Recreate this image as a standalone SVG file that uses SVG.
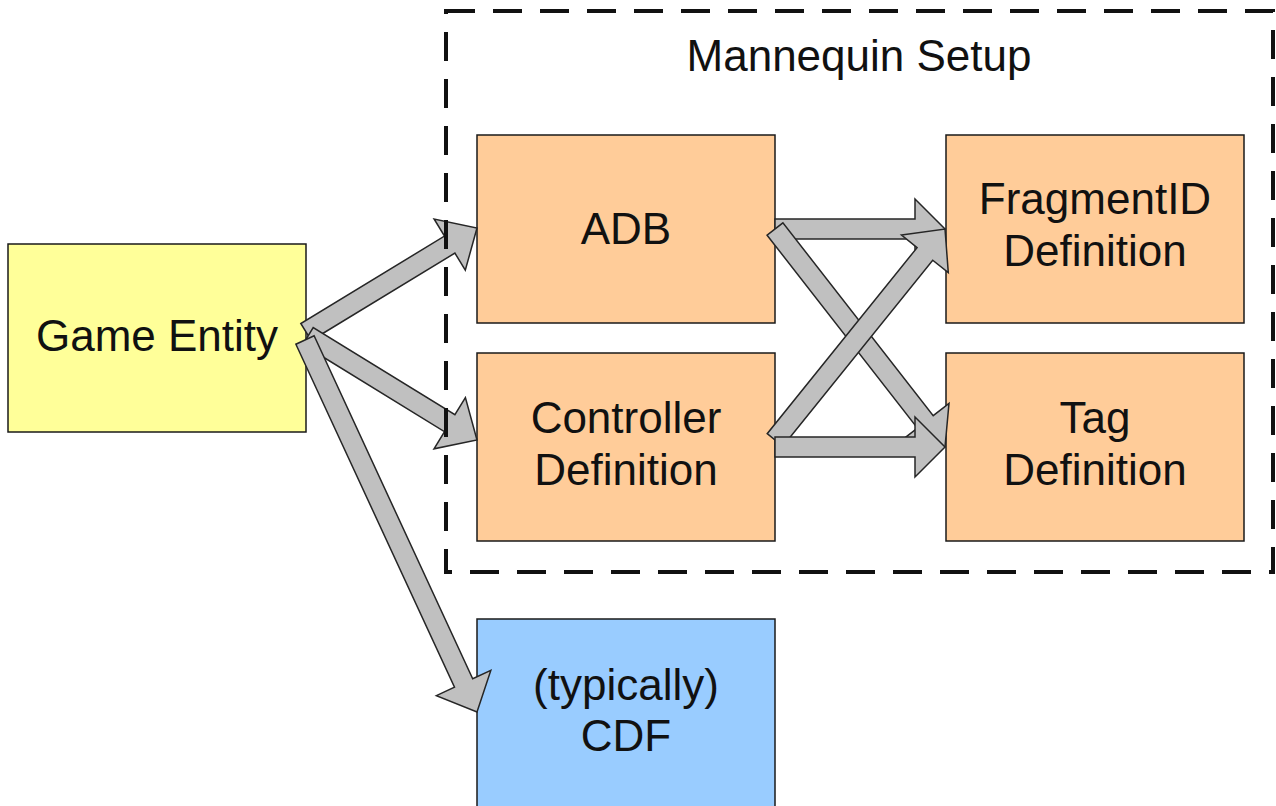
<svg xmlns="http://www.w3.org/2000/svg" width="1276" height="806" viewBox="0 0 1276 806">
<style>
.box{stroke:#1a1a1a;stroke-width:1.5}
.ylw{fill:#FFFF99}
.org{fill:#FFCC99}
.blu{fill:#99CCFF}
.arr{fill:#C0C0C0;stroke:#262626;stroke-width:1.5;stroke-linejoin:miter}
.lbl{font-family:"Liberation Sans",Arial,sans-serif;font-size:44px;fill:#111;text-anchor:middle}
.grp{fill:none;stroke:#111;stroke-width:4;stroke-dasharray:29 18}
</style>
<rect width="1276" height="806" fill="#fff"/>
<g id="game-entity">
<rect class="box ylw" x="8" y="244" width="298" height="188"/>
<text class="lbl" x="157" y="351">Game Entity</text>
</g>
<g id="adb">
<rect class="box org" x="477" y="135" width="298" height="188"/>
<text class="lbl" x="626" y="244">ADB</text>
</g>
<g id="controller-definition">
<rect class="box org" x="477" y="353" width="298" height="188"/>
<text class="lbl" x="626" y="433">Controller</text>
<text class="lbl" x="626" y="485">Definition</text>
</g>
<g id="fragmentid-definition">
<rect class="box org" x="946" y="135" width="298" height="188"/>
<text class="lbl" x="1095" y="214">FragmentID</text>
<text class="lbl" x="1095" y="266">Definition</text>
</g>
<g id="tag-definition">
<rect class="box org" x="946" y="353" width="298" height="188"/>
<text class="lbl" x="1095" y="433">Tag</text>
<text class="lbl" x="1095" y="485">Definition</text>
</g>
<g id="cdf">
<rect class="box blu" x="477" y="619" width="298" height="200"/>
<text class="lbl" x="626" y="700">(typically)</text>
<text class="lbl" x="626" y="751">CDF</text>
</g>
<g id="connectors">
<polygon class="arr" points="311.2,340.5 454.9,253.1 465.3,270.2 477,228 434.1,219 444.5,236.1 300.8,323.5"/>
<polygon class="arr" points="302.8,344.5 444.5,431.7 434,448.8 477,440 465.4,397.6 454.9,414.7 313.2,327.5"/>
<polygon class="arr" points="295.9,344.2 454.5,687.2 436.4,695.6 477,712 490.8,670.4 472.7,678.8 314.1,335.8"/>
<polygon class="arr" points="775,219 915,219 915,199 945,229 915,259 915,239 775,239"/>
<polygon class="arr" points="767.1,235.2 917.4,428 901.6,440.3 945,447 949,403.3 933.2,415.6 782.9,222.8"/>
<polygon class="arr" points="782.8,446.3 932.7,260.2 948.3,272.7 945,229 901.5,235.1 917.1,247.6 767.2,433.7"/>
<polygon class="arr" points="775,437 915,437 915,417 945,447 915,477 915,457 775,457"/>
</g>
<g id="mannequin-setup">
<rect class="grp" x="446" y="11" width="827" height="561"/>
<text class="lbl" x="859" y="71">Mannequin Setup</text>
</g>
</svg>
